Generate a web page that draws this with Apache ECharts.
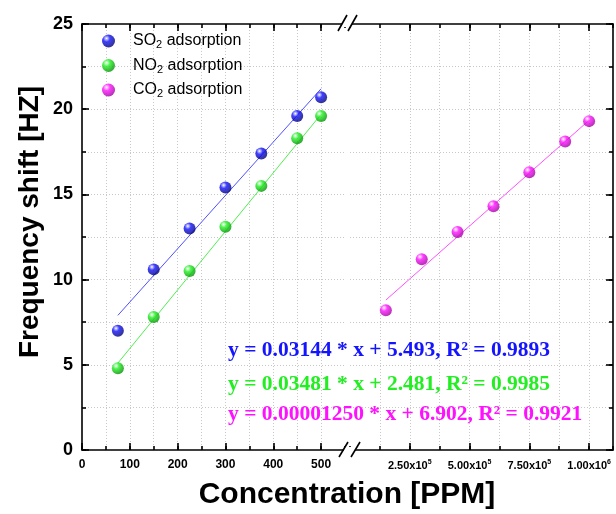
<!DOCTYPE html>
<html>
<head>
    <meta charset="utf-8" />
    <script src="https://cdn.jsdelivr.net/npm/echarts@6/dist/echarts.min.js"></script>
</head>
<body style="margin:0">
    <div id="main" style="width:616px;height:514px;"></div>
    <script type="text/javascript">
        // measured points
        var so2X = [75, 150, 225, 300, 375, 450, 500];
        var so2Y = [7.0, 10.6, 13.0, 15.4, 17.4, 19.6, 20.7];
        var no2X = [75, 150, 225, 300, 375, 450, 500];
        var no2Y = [4.8, 7.8, 10.5, 13.1, 15.5, 18.3, 19.6];
        var co2X = [150000, 300000, 450000, 600000, 750000, 900000, 1000000];
        var co2Y = [8.2, 11.2, 12.8, 14.3, 16.3, 18.1, 19.3];

        // ends of the fitted lines
        var so2FitX = [75, 500], so2FitY = [7.9, 21.2];
        var no2FitX = [75, 500], no2FitY = [5.1, 19.7];
        var co2FitX = [150000, 1000000], co2FitY = [8.8, 19.35];

        var seriesNames = ['SO2 adsorption', 'NO2 adsorption', 'CO2 adsorption'];
        var fitTexts = [
            'y = 0.03144 * x + 5.493, R² = 0.9893',
            'y = 0.03481 * x + 2.481, R² = 0.9985',
            'y = 0.00001250 * x + 6.902, R² = 0.9921'
        ];
        var lowTicks = [0, 100, 200, 300, 400, 500];
        var highTicks = [250000, 500000, 750000, 1000000];
        var yTicks = [0, 5, 10, 15, 20, 25];

        function zip(xs, ys) {
            return xs.map(function (x, i) { return [x, ys[i]]; });
        }
        function ball(c, dark) {
            return new echarts.graphic.RadialGradient(0.35, 0.3, 0.75, [
                { offset: 0, color: '#ffffff' },
                { offset: 0.35, color: c },
                { offset: 1, color: dark }
            ]);
        }

        var grid = { color: '#c8c8c8', type: [1, 2], width: 1 };
        var black = { color: '#000', width: 1.6 };

        // one x axis set for a grid: main (all ticks, labels, split lines) + major tick overlay
        function xAxes(gi, pos, min, max, step, majors, labels, labelFmt) {
            var main = {
                type: 'value', gridIndex: gi, position: pos, min: min, max: max, interval: step,
                axisLine: { show: true, onZero: false, lineStyle: black },
                axisTick: { show: true, inside: true, length: 4, lineStyle: black },
                axisLabel: { show: false },
                splitLine: { show: false }
            };
            if (labels) {
                main.axisLabel = {
                    show: true, customValues: majors, margin: 9, color: '#000',
                    fontFamily: 'Liberation Sans', fontWeight: 'bold', fontSize: 12,
                    formatter: labelFmt,
                    rich: {
                        b: { fontFamily: 'Liberation Sans', fontWeight: 'bold', fontSize: 11, color: '#000' },
                        s: { fontFamily: 'Liberation Sans', fontWeight: 'bold', fontSize: 7, color: '#000', verticalAlign: 'top', padding: [0, 0, 7, 0] }
                    }
                };
                main.splitLine = { show: true, showMinLine: false, showMaxLine: false, lineStyle: grid };
            }
            var major = {
                type: 'value', gridIndex: gi, position: pos, min: min, max: max, interval: step,
                axisLine: { show: false, onZero: false },
                axisTick: { show: true, inside: true, length: 7, customValues: majors, lineStyle: black },
                axisLabel: { show: false },
                splitLine: { show: false }
            };
            return [main, major];
        }

        function yAxes(gi, pos, labels) {
            var main = {
                type: 'value', gridIndex: gi, position: pos, min: 0, max: 25, interval: 2.5,
                axisLine: { show: true, onZero: false, lineStyle: black },
                axisTick: { show: true, inside: true, length: 4, lineStyle: black },
                axisLabel: { show: false },
                splitLine: { show: true, showMinLine: false, showMaxLine: false, lineStyle: grid }
            };
            if (labels) {
                main.axisLabel = {
                    show: true, customValues: yTicks, margin: 9, color: '#000',
                    fontFamily: 'Liberation Sans', fontWeight: 'bold', fontSize: 18
                };
            }
            var major = {
                type: 'value', gridIndex: gi, position: pos, min: 0, max: 25, interval: 5,
                axisLine: { show: false, onZero: false },
                axisTick: { show: true, inside: true, length: 7, lineStyle: black },
                axisLabel: { show: false },
                splitLine: { show: false }
            };
            return [main, major];
        }

        var xs = [].concat(
            xAxes(0, 'bottom', 0, 550, 50, lowTicks, true, function (v) { return String(v); }),
            xAxes(0, 'top', 0, 550, 50, lowTicks, false),
            xAxes(1, 'bottom', 0, 1100000, 125000, highTicks, true, function (v) {
                if (v >= 1000000) return '{b|' + (v / 1000000).toFixed(2) + 'x10}{s|6}';
                return '{b|' + (v / 100000).toFixed(2) + 'x10}{s|5}';
            }),
            xAxes(1, 'top', 0, 1100000, 125000, highTicks, false)
        );
        var ys = [].concat(yAxes(0, 'left', true), yAxes(1, 'right', false));

        var myChart = echarts.init(document.getElementById('main'));

        var option = {
            animation: false,
            backgroundColor: '#fff',
            grid: [
                { left: 82, top: 24, width: 263, height: 426 },
                { left: 350, top: 24, width: 263, height: 426 }
            ],
            xAxis: xs,
            yAxis: ys,
            legend: {
                orient: 'vertical', left: 97, top: 28, itemGap: 7,
                itemWidth: 13, itemHeight: 13, icon: 'circle',
                data: seriesNames,
                formatter: function (name) {
                    return name.replace('2', '{sub|2}');
                },
                textStyle: {
                    fontFamily: 'Liberation Sans', fontSize: 16, color: '#000',
                    padding: [0, 0, 0, 13],
                    rich: {
                        sub: { fontFamily: 'Liberation Sans', fontSize: 11, color: '#000', verticalAlign: 'bottom', padding: [8, 0, 0, 0] }
                    }
                }
            },
            series: [
                { name: 'SO2 fit', type: 'line', xAxisIndex: 0, yAxisIndex: 0, data: zip(so2FitX, so2FitY), symbol: 'none', lineStyle: { color: '#5050ff', width: 1 }, z: 2 },
                { name: 'NO2 fit', type: 'line', xAxisIndex: 0, yAxisIndex: 0, data: zip(no2FitX, no2FitY), symbol: 'none', lineStyle: { color: '#50ee50', width: 1 }, z: 2 },
                { name: 'CO2 fit', type: 'line', xAxisIndex: 4, yAxisIndex: 2, data: zip(co2FitX, co2FitY), symbol: 'none', lineStyle: { color: '#ff50ff', width: 1 }, z: 2 },
                { name: seriesNames[0], type: 'scatter', xAxisIndex: 0, yAxisIndex: 0, data: zip(so2X, so2Y), symbolSize: 12, itemStyle: { color: ball('#1010ff', '#00006a') }, z: 3 },
                { name: seriesNames[1], type: 'scatter', xAxisIndex: 0, yAxisIndex: 0, data: zip(no2X, no2Y), symbolSize: 12, itemStyle: { color: ball('#20f020', '#008a00') }, z: 3 },
                { name: seriesNames[2], type: 'scatter', xAxisIndex: 4, yAxisIndex: 2, data: zip(co2X, co2Y), symbolSize: 12, itemStyle: { color: ball('#ff10ff', '#9a009a') }, z: 3 }
            ],
            graphic: [
                // axis break marks
                { type: 'rect', shape: { x: 342, y: 20, width: 10, height: 7 }, style: { fill: '#fff' }, z: 50 },
                { type: 'rect', shape: { x: 344, y: 447, width: 11, height: 7 }, style: { fill: '#fff' }, z: 50 },
                { type: 'line', shape: { x1: 338, y1: 31, x2: 347, y2: 15 }, style: { stroke: '#000', lineWidth: 1.6 }, z: 51 },
                { type: 'line', shape: { x1: 348, y1: 31, x2: 357, y2: 15 }, style: { stroke: '#000', lineWidth: 1.6 }, z: 51 },
                { type: 'line', shape: { x1: 339, y1: 457, x2: 348, y2: 442 }, style: { stroke: '#000', lineWidth: 1.6 }, z: 51 },
                { type: 'line', shape: { x1: 351, y1: 457, x2: 360, y2: 442 }, style: { stroke: '#000', lineWidth: 1.6 }, z: 51 },
                // fit equations
                { type: 'text', x: 228, y: 350, style: { text: fitTexts[0], fill: '#1414ff', font: 'bold 21.5px "Liberation Serif"', verticalAlign: 'middle' }, z: 40 },
                { type: 'text', x: 228, y: 384, style: { text: fitTexts[1], fill: '#22ee22', font: 'bold 21.5px "Liberation Serif"', verticalAlign: 'middle' }, z: 40 },
                { type: 'text', x: 228, y: 414, style: { text: fitTexts[2], fill: '#ff10ff', font: 'bold 21.5px "Liberation Serif"', verticalAlign: 'middle' }, z: 40 },
                // axis titles
                { type: 'text', x: 30, y: 222, rotation: Math.PI / 2, style: { text: 'Frequency shift [HZ]', fill: '#000', font: 'bold 28px "Liberation Sans"', align: 'center', verticalAlign: 'middle' } },
                { type: 'text', x: 347, y: 495, style: { text: 'Concentration [PPM]', fill: '#000', font: 'bold 30px "Liberation Sans"', align: 'center', verticalAlign: 'middle' } }
            ]
        };

        myChart.setOption(option);
    </script>
</body>
</html>
